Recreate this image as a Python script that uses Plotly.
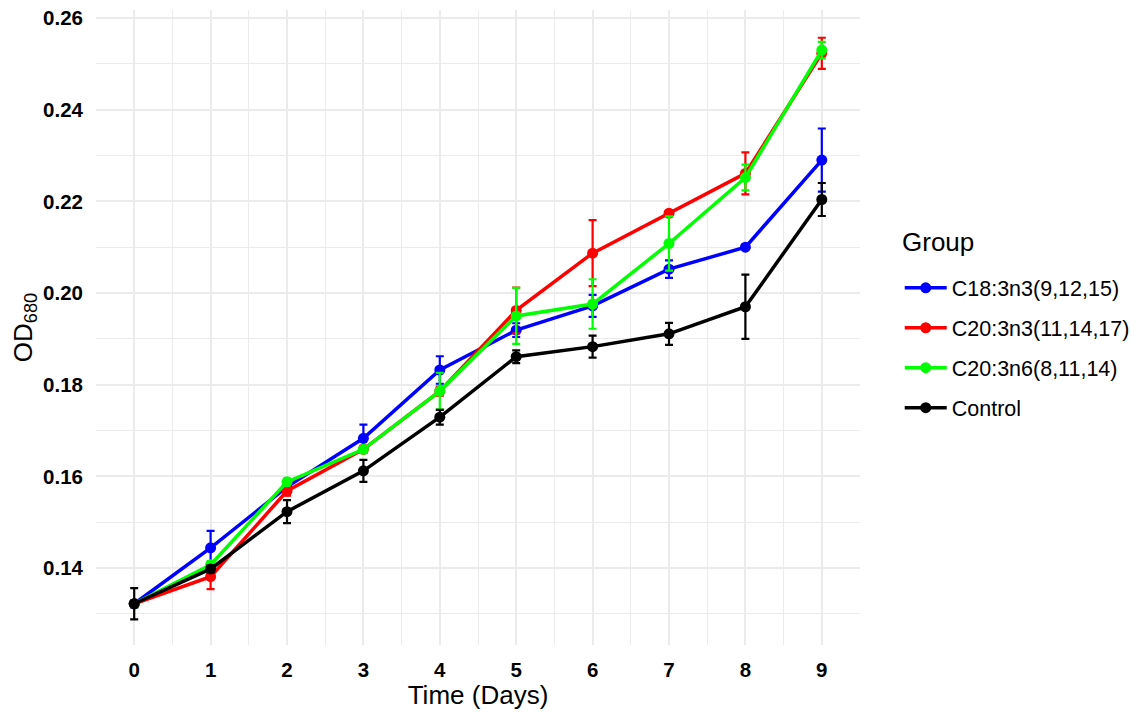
import plotly.graph_objects as go

days = [0, 1, 2, 3, 4, 5, 6, 7, 8, 9]
groups = ["C18:3n3(9,12,15)", "C20:3n3(11,14,17)", "C20:3n6(8,11,14)", "Control"]
colors = ["#0000FF", "#FF0000", "#00FF00", "#000000"]

c18_mean = [0.1322, 0.1444, 0.1577, 0.1683, 0.1832, 0.1919, 0.1972, 0.2052, 0.2100, 0.2290]
c18_err = [0.0008, 0.0037, 0.0008, 0.0030, 0.0030, 0.0015, 0.0024, 0.0019, 0.0004, 0.0069]

c20n3_mean = [0.1322, 0.1381, 0.1568, 0.1659, 0.1786, 0.1962, 0.2087, 0.2174, 0.2261, 0.2523]
c20n3_err = [0.0006, 0.0027, 0.0010, 0.0008, 0.0010, 0.0050, 0.0072, 0.0004, 0.0046, 0.0034]

c20n6_mean = [0.1322, 0.1407, 0.1588, 0.1659, 0.1786, 0.1950, 0.1976, 0.2108, 0.2252, 0.2530]
c20n6_err = [0.0006, 0.0008, 0.0007, 0.0006, 0.0040, 0.0061, 0.0054, 0.0059, 0.0028, 0.0018]

ctrl_mean = [0.1322, 0.1398, 0.1523, 0.1612, 0.1729, 0.1861, 0.1883, 0.1911, 0.1970, 0.2204]
ctrl_err = [0.0034, 0.0008, 0.0025, 0.0024, 0.0016, 0.0014, 0.0024, 0.0024, 0.0070, 0.0036]

means = [c18_mean, c20n3_mean, c20n6_mean, ctrl_mean]
errs = [c18_err, c20n3_err, c20n6_err, ctrl_err]

fig = go.Figure()
for g, c, m, e in zip(groups, colors, means, errs):
    fig.add_trace(go.Scatter(
        x=days, y=m, name=g, legendgroup=g,
        mode="lines+markers",
        line=dict(color=c, width=3.5),
        marker=dict(color=c, size=11),
        error_y=dict(type="data", array=e, visible=True, color=c, thickness=2.2, width=4),
    ))

grid_major = "#EBEBEB"
FONT = "Liberation Sans, Arial, sans-serif"
# page body has an 8px margin; figure sized so the plot area lands at x 96..860, y 10..645
fig.update_layout(
    width=1133, height=704,
    margin=dict(l=88, r=281, t=2, b=67),
    paper_bgcolor="white", plot_bgcolor="white",
    font=dict(family=FONT, color="black"),
    legend=dict(
        font=dict(size=21.5),
        x=1.052, xanchor="left", y=0.468, yanchor="middle",
        tracegroupgap=9, itemwidth=42,
        bgcolor="rgba(0,0,0,0)",
    ),
    annotations=[dict(
        text="Group", xref="paper", yref="paper",
        x=1.052, y=(645 - 242) / 635, xanchor="left", yanchor="middle",
        showarrow=False, font=dict(size=26, family=FONT),
    )],
    xaxis=dict(
        range=[-0.5, 9.5], tickmode="array", tickvals=days,
        ticktext=[str(d) for d in days],
        tickfont=dict(size=20.5, family=FONT, weight="bold"),
        showgrid=True, gridcolor=grid_major, gridwidth=2,
        minor=dict(dtick=0.5, tick0=-0.5, showgrid=True, gridcolor=grid_major, gridwidth=1),
        zeroline=False, showline=False, ticks="",
        ticklabelstandoff=10, automargin=False,
        title=dict(text="Time (Days)", font=dict(size=26), standoff=2),
    ),
    yaxis=dict(
        range=[0.1232, 0.26175], tick0=0.14, dtick=0.02, tickformat=".2f",
        tickfont=dict(size=20.5, family=FONT, weight="bold"),
        showgrid=True, gridcolor=grid_major, gridwidth=2,
        minor=dict(dtick=0.01, tick0=0.13, showgrid=True, gridcolor=grid_major, gridwidth=1),
        zeroline=False, showline=False, ticks="",
        ticklabelstandoff=12, automargin=False, ticklabeloverflow="allow",
        title=dict(text="OD<sub>680</sub>", font=dict(size=26), standoff=6),
    ),
)

fig.write_html("out.html", config={"displayModeBar": False})
